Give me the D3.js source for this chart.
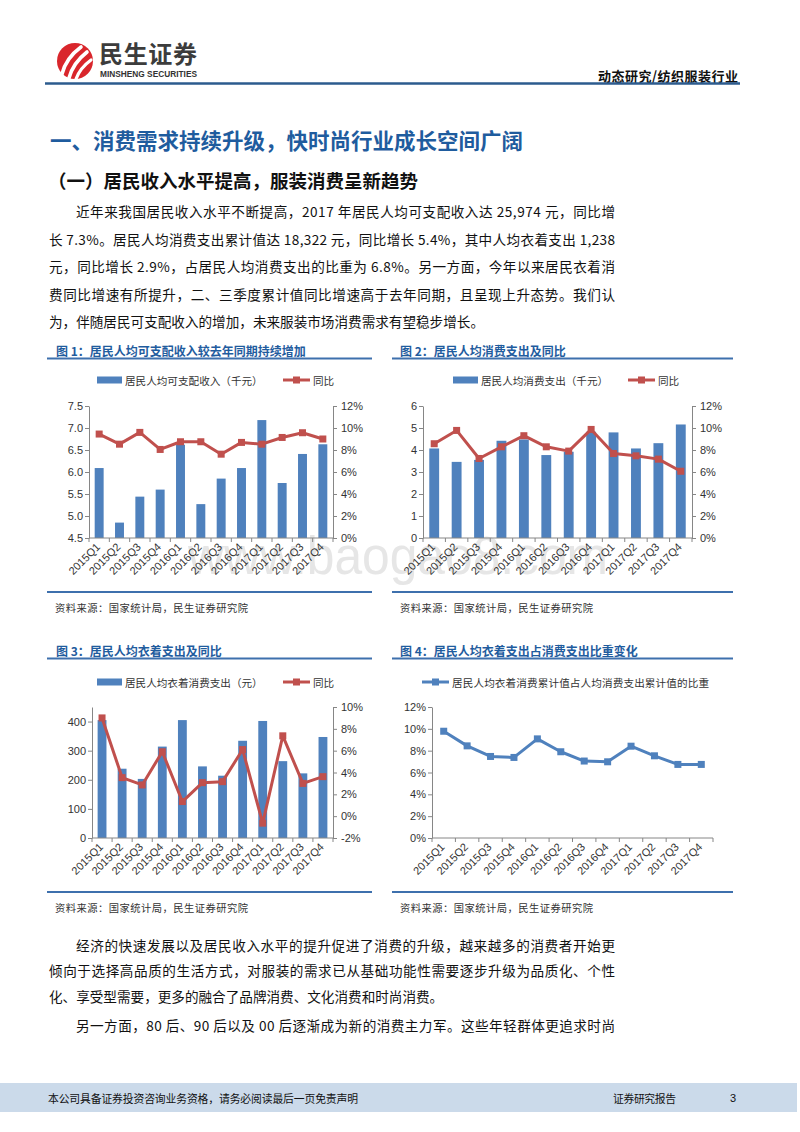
<!DOCTYPE html>
<html><head><meta charset="utf-8">
<script src="https://cdn.jsdelivr.net/npm/d3@7"></script>
<style>body{margin:0;background:#fff}svg{display:block}</style>
</head><body>
<svg id="page" width="800" height="1132"></svg>
<script>
// ---------------- DATA ----------------
const quarters = ["2015Q1","2015Q2","2015Q3","2015Q4","2016Q1","2016Q2","2016Q3","2016Q4","2017Q1","2017Q2","2017Q3","2017Q4"];
const income      = [6.09,4.85,5.44,5.60,6.62,5.27,5.85,6.09,7.18,5.75,6.41,6.63];
const incomeYoY   = [9.45,8.53,9.60,8.05,8.75,8.75,7.62,8.69,8.53,9.14,9.57,9.00];
const spend       = [4.07,3.46,3.55,4.42,4.48,3.77,3.92,4.83,4.80,4.07,4.31,5.16];
const spendYoY    = [8.57,9.78,7.23,8.29,9.30,8.29,7.90,9.87,7.68,7.47,7.17,6.07];
const clothing    = [405,238,203,314,405,246,214,334,402,264,222,347];
const clothingYoY = [9.00,3.53,2.86,5.90,1.34,3.07,3.16,6.10,-0.64,7.36,3.00,3.62];
const clothingShare = [9.78,8.44,7.47,7.38,9.08,7.90,7.05,6.98,8.41,7.53,6.74,6.74];

const ticks1L = [4.5,5.0,5.5,6.0,6.5,7.0,7.5];
const ticks2L = [0,1,2,3,4,5,6];
const ticks3L = [0,100,200,300,400];
const ticksPct = [0,2,4,6,8,10,12];
const ticks3R = [-2,0,2,4,6,8,10];

const headerRight = "动态研究/纺织服装行业";
const sectionTitle = "一、消费需求持续升级，快时尚行业成长空间广阔";
const subTitle = "（一）居民收入水平提高，服装消费呈新趋势";
const para1 = [
  "近年来我国居民收入水平不断提高，2017 年居民人均可支配收入达 25,974 元，同比增",
  "长 7.3%。居民人均消费支出累计值达 18,322 元，同比增长 5.4%，其中人均衣着支出 1,238",
  "元，同比增长 2.9%，占居民人均消费支出的比重为 6.8%。另一方面，今年以来居民衣着消",
  "费同比增速有所提升，二、三季度累计值同比增速高于去年同期，且呈现上升态势。我们认",
  "为，伴随居民可支配收入的增加，未来服装市场消费需求有望稳步增长。"
];
const para2 = [
  "经济的快速发展以及居民收入水平的提升促进了消费的升级，越来越多的消费者开始更",
  "倾向于选择高品质的生活方式，对服装的需求已从基础功能性需要逐步升级为品质化、个性",
  "化、享受型需要，更多的融合了品牌消费、文化消费和时尚消费。",
  "另一方面，80 后、90 后以及 00 后逐渐成为新的消费主力军。这些年轻群体更追求时尚"
];
const sourceText = "资料来源：国家统计局，民生证券研究院";
const footerLeft = "本公司具备证券投资咨询业务资格，请务必阅读最后一页免责声明";
const footerMid = "证券研究报告";
const pageNo = "3";
const watermark = "www.baogao8.com";

// ---------------- STYLE ----------------
const CJK = "'Noto Sans CJK SC','Noto Sans',sans-serif";
const NUM = "'Liberation Sans',Arial,sans-serif";
const BLUE = "#4f81bd", RED = "#c0504d", AXIS = "#868686", TITLEBLUE = "#1f5c9e", RULE = "#3e70ad";

const svg = d3.select("#page");

// watermark (behind)
svg.append("text").attr("x",188).attr("y",574).attr("font-family",NUM).attr("font-size",54)
  .attr("fill","#e6e6e6").attr("textLength",420).attr("lengthAdjust","spacingAndGlyphs").text(watermark);

// ---------------- HEADER ----------------
const logo = svg.append("g");
logo.append("circle").attr("cx",75).attr("cy",61).attr("r",18).attr("fill","#d9262c");
[["M62,74 Q66,58 81,47",3.6],["M69,78 Q73,63 87,52",3.6],["M76,79 Q80,68 91,60",3.2]].forEach(([p,w])=>{
  logo.append("path").attr("d",p).attr("fill","none").attr("stroke","#fff").attr("stroke-width",w).attr("stroke-linecap","round");
});
svg.append("text").attr("x",99).attr("y",63).attr("font-family",CJK).attr("font-weight",700)
  .attr("font-size",24).attr("fill","#3c3c3c").attr("textLength",98).text("民生证券");
svg.append("text").attr("x",100).attr("y",77).attr("font-family",NUM).attr("font-weight",700)
  .attr("font-size",8.5).attr("fill","#333").attr("textLength",97).attr("lengthAdjust","spacingAndGlyphs").text("MINSHENG SECURITIES");
svg.append("text").attr("x",738).attr("y",75).attr("text-anchor","end").attr("dominant-baseline","central")
  .attr("font-family",CJK).attr("font-weight",700).attr("font-size",13).attr("fill","#111")
  .attr("textLength",140).text(headerRight);
svg.append("line").attr("x1",45).attr("x2",740).attr("y1",83.5).attr("y2",83.5).attr("stroke","#2c5b8e").attr("stroke-width",2.5);

// ---------------- TITLES & TEXT ----------------
svg.append("text").attr("x",50).attr("y",139).attr("dominant-baseline","central").attr("font-family",CJK)
  .attr("font-weight",700).attr("font-size",21.5).attr("fill",TITLEBLUE).text(sectionTitle);
svg.append("text").attr("x",48).attr("y",180).attr("dominant-baseline","central").attr("font-family",CJK)
  .attr("font-weight",700).attr("font-size",18.5).attr("fill","#111").text(subTitle);

function paragraph(lines, ys, indents, justify){
  lines.forEach((t,i)=>{
    const x0 = indents[i] ? 76 : 49;
    const tx = svg.append("text").attr("x",x0).attr("y",ys[i]).attr("dominant-baseline","central")
      .attr("font-family",CJK).attr("font-size",13.6).attr("fill","#111").text(t);
    if (justify[i]) tx.attr("textLength",615-x0).attr("lengthAdjust","spacing");
  });
}
paragraph(para1,[211,238.5,266,293.5,321],[1,0,0,0,0],[1,1,1,1,0]);
paragraph(para2,[945,970,996,1025],[1,0,0,1],[1,1,0,1]);

// ---------------- FOOTER ----------------
svg.append("rect").attr("x",0).attr("y",1083).attr("width",797).attr("height",29).attr("fill","#cbdaea");
svg.append("text").attr("x",48).attr("y",1098).attr("dominant-baseline","central").attr("font-family",CJK)
  .attr("font-size",10.8).attr("fill","#111").attr("textLength",310).text(footerLeft);
svg.append("text").attr("x",613).attr("y",1098).attr("dominant-baseline","central").attr("font-family",CJK)
  .attr("font-size",10.8).attr("fill","#111").attr("textLength",63).text(footerMid);
svg.append("text").attr("x",730).attr("y",1098).attr("dominant-baseline","central").attr("font-family",NUM)
  .attr("font-size",11).attr("fill","#111").text(pageNo);

// ---------------- CHARTS ----------------
function chart(c){
  const g = svg.append("g");
  g.append("text").attr("x",c.tx).attr("y",c.ty).attr("dominant-baseline","central").attr("font-family",CJK)
    .attr("font-weight",700).attr("font-size",12).attr("fill",TITLEBLUE).text(c.title);
  [c.ty+8.5, c.ty+242].forEach(y=>g.append("line").attr("x1",c.rx0).attr("x2",c.rx1).attr("y1",y).attr("y2",y)
    .attr("stroke",RULE).attr("stroke-width",2));
  g.append("text").attr("x",c.sx).attr("y",c.ty+257).attr("dominant-baseline","central").attr("font-family",CJK)
    .attr("font-size",10.3).attr("fill","#333").attr("textLength",193).text(sourceText);

  const x = d3.scaleBand().domain(quarters).range([c.x0,c.x1]).paddingInner(0.56).paddingOuter(0.28);
  const cx = q => x(q)+x.bandwidth()/2;
  const yL = d3.scaleLinear().domain(c.lDomain).range([c.yBot,c.yTop]);
  const yR = c.rDomain ? d3.scaleLinear().domain(c.rDomain).range([c.yBot,c.yTop]) : null;

  if (c.bars){
    g.selectAll(null).data(c.bars).join("rect")
      .attr("x",(d,i)=>x(quarters[i])).attr("width",x.bandwidth())
      .attr("y",d=>yL(d)).attr("height",d=>yL(c.lDomain[0])-yL(d)).attr("fill",BLUE);
  }
  const la = g.append("g").attr("transform",`translate(${c.x0},0)`)
    .call(d3.axisLeft(yL).tickValues(c.lTicks).tickFormat(c.lFmt).tickSize(4).tickSizeOuter(0).tickPadding(2));
  if (yR){
    const ra = g.append("g").attr("transform",`translate(${c.x1},0)`)
      .call(d3.axisRight(yR).tickValues(c.rTicks).tickFormat(d=>d+"%").tickSize(4).tickSizeOuter(0).tickPadding(4));
    styleAxis(ra);
  }
  styleAxis(la);
  g.append("line").attr("x1",c.x0).attr("x2",c.x1).attr("y1",c.yBot).attr("y2",c.yBot).attr("stroke",AXIS);
  const step = x.step();
  g.selectAll(null).data(d3.range(13)).join("line")
    .attr("x1",i=>c.x0+i*step).attr("x2",i=>c.x0+i*step).attr("y1",c.yBot).attr("y2",c.yBot+4).attr("stroke",AXIS);
  g.selectAll(null).data(quarters).join("text")
    .attr("transform",q=>`translate(${cx(q)-1},${c.yBot+7}) rotate(-45)`)
    .attr("text-anchor","end").attr("dy","0.35em").attr("font-family",NUM).attr("font-size",11).attr("fill","#333").text(q=>q);

  const ys = c.lineLeft ? yL : yR;
  const lc = c.lineColor;
  g.append("path").datum(c.line).attr("fill","none").attr("stroke",lc).attr("stroke-width",3).attr("stroke-linejoin","round")
    .attr("d",d3.line().x((d,i)=>cx(quarters[i])).y(d=>ys(d)));
  g.selectAll(null).data(c.line).join("rect")
    .attr("x",(d,i)=>cx(quarters[i])-3.5).attr("y",d=>ys(d)-3.5).attr("width",7).attr("height",7).attr("fill",lc);

  const ly = c.ly;
  if (c.barLabel){
    g.append("rect").attr("x",c.lbx).attr("y",ly-3.5).attr("width",25).attr("height",7).attr("fill",BLUE);
    g.append("text").attr("x",c.lbx+28).attr("y",ly).attr("dominant-baseline","central").attr("font-family",CJK)
      .attr("font-size",10.6).attr("fill","#333").text(c.barLabel);
  }
  g.append("line").attr("x1",c.llx).attr("x2",c.llx+27).attr("y1",ly).attr("y2",ly).attr("stroke",lc).attr("stroke-width",3);
  g.append("rect").attr("x",c.llx+13.5-3.5).attr("y",ly-3.5).attr("width",7).attr("height",7).attr("fill",lc);
  const lt = g.append("text").attr("x",c.llx+30).attr("y",ly).attr("dominant-baseline","central").attr("font-family",CJK)
    .attr("font-size",10.6).attr("fill","#333").text(c.lineLabel);
  if (c.lineLen) lt.attr("textLength",c.lineLen);
}
function styleAxis(a){
  a.select(".domain").attr("stroke",AXIS);
  a.selectAll(".tick line").attr("stroke",AXIS);
  a.selectAll(".tick text").attr("font-family",NUM).attr("font-size",11).attr("fill","#333");
}

chart({title:"图 1：居民人均可支配收入较去年同期持续增加", tx:56, ty:350, rx0:47, rx1:372, sx:55,
  x0:89, x1:333, yTop:406, yBot:538, lDomain:[4.5,7.5], lTicks:ticks1L, lFmt:d3.format(".1f"),
  rDomain:[0,12], rTicks:ticksPct, bars:income, line:incomeYoY, lineColor:RED,
  ly:380, lbx:97, barLabel:"居民人均可支配收入（千元）", llx:283, lineLabel:"同比"});

chart({title:"图 2：居民人均消费支出及同比", tx:400, ty:350, rx0:392, rx1:733, sx:400,
  x0:423, x1:692, yTop:406, yBot:538, lDomain:[0,6], lTicks:ticks2L, lFmt:d3.format("d"),
  rDomain:[0,12], rTicks:ticksPct, bars:spend, line:spendYoY, lineColor:RED,
  ly:380, lbx:453, barLabel:"居民人均消费支出（千元）", llx:628, lineLabel:"同比"});

chart({title:"图 3：居民人均衣着支出及同比", tx:56, ty:650, rx0:47, rx1:372, sx:55,
  x0:92, x1:333, yTop:707, yBot:838, lDomain:[0,450], lTicks:ticks3L, lFmt:d3.format("d"),
  rDomain:[-2,10], rTicks:ticks3R, bars:clothing, line:clothingYoY, lineColor:RED,
  ly:682, lbx:97, barLabel:"居民人均衣着消费支出（元）", llx:283, lineLabel:"同比"});

chart({title:"图 4：居民人均衣着支出占消费支出比重变化", tx:400, ty:650, rx0:392, rx1:733, sx:400,
  x0:432, x1:713, yTop:707, yBot:838, lDomain:[0,12], lTicks:ticksPct, lFmt:d=>d+"%",
  rDomain:null, line:clothingShare, lineLeft:true, lineColor:BLUE,
  ly:682, llx:422, lineLabel:"居民人均衣着消费累计值占人均消费支出累计值的比重", lineLen:257});
</script>
</body></html>
